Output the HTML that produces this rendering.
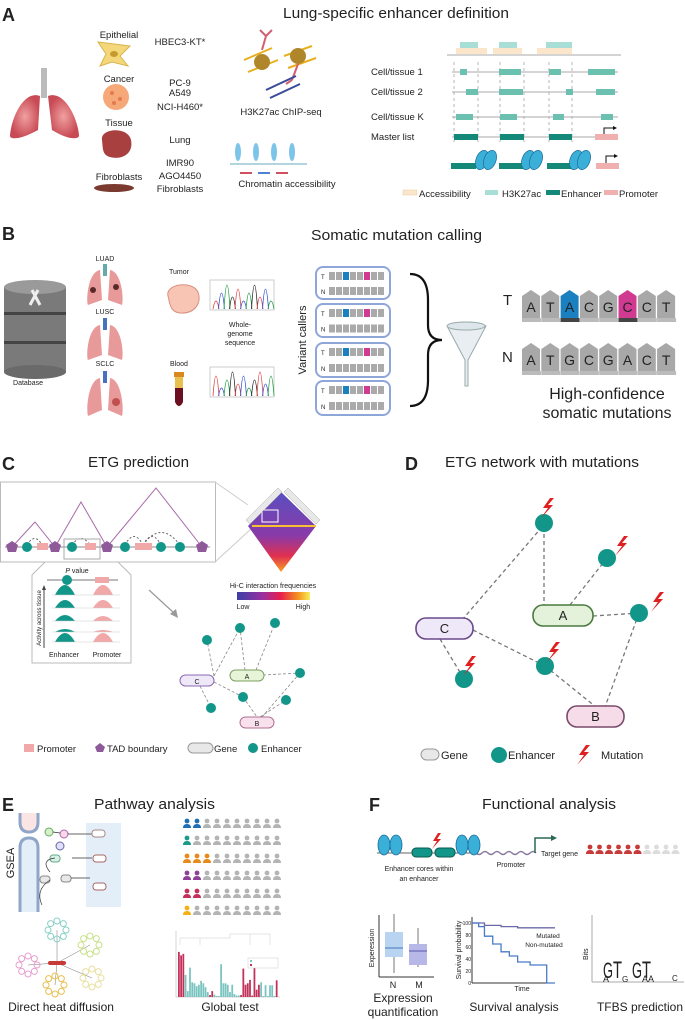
<!DOCTYPE html>
<html><head><meta charset="utf-8"><style>
html,body{margin:0;padding:0;background:#fff}
svg{display:block}
text{font-family:"Liberation Sans",sans-serif;fill:#222}
</style></head><body>
<svg id="fig" width="685" height="1020" viewBox="0 0 685 1020">
<defs>
<linearGradient id="hic" x1="0" x2="1"><stop offset="0" stop-color="#3b3fa6"/><stop offset=".35" stop-color="#9a2fa0"/><stop offset=".6" stop-color="#e8204a"/><stop offset=".85" stop-color="#f59a20"/><stop offset="1" stop-color="#f7ef5a"/></linearGradient>
<linearGradient id="hicd" x1="0" y1="0" x2="0" y2="1"><stop offset="0" stop-color="#5a4fc0"/><stop offset=".55" stop-color="#8a3aa8"/><stop offset=".8" stop-color="#e03050"/><stop offset="1" stop-color="#f7a020"/></linearGradient>
<radialGradient id="lungg"><stop offset="0" stop-color="#f0a0a0"/><stop offset="1" stop-color="#c84a55"/></radialGradient>
</defs>

<!-- ================= PANEL A ================= -->
<g>
<text x="2" y="21" font-size="18" font-weight="bold">A</text>
<text x="283" y="18" font-size="15" textLength="226" lengthAdjust="spacingAndGlyphs">Lung-specific enhancer definition</text>
<g>
<rect x="41" y="68" width="6" height="30" fill="#bbb"/>
<path d="M40 96 C25 90 12 115 10 135 C9 140 20 140 38 130 Z" fill="url(#lungg)"/>
<path d="M48 96 C63 90 77 115 79 135 C80 140 68 140 52 130 Z" fill="url(#lungg)"/>
</g>
<g>
<path d="M98 42 L130 46 L120 56 L128 66 L112 62 L100 66 L106 54 Z" fill="#f3d77a" stroke="#d9b44a"/>
<ellipse cx="114" cy="54" rx="4" ry="3" fill="#c79a2e"/>
<circle cx="116" cy="97" r="13" fill="#f6a878"/>
<circle cx="112" cy="93" r="2" fill="#e47a50"/><circle cx="120" cy="99" r="2" fill="#e47a50"/><circle cx="114" cy="103" r="2" fill="#e47a50"/>
<path d="M102 140 C100 128 128 126 131 140 C134 155 120 160 110 157 C102 155 103 148 102 140Z" fill="#a8403f"/>
<ellipse cx="114" cy="188" rx="20" ry="4" fill="#7a3a30"/>
</g>
<g font-size="9.5" text-anchor="middle">
<text x="119" y="38">Epithelial</text>
<text x="180" y="45">HBEC3-KT*</text>
<text x="119" y="82">Cancer</text>
<text x="180" y="86">PC-9</text>
<text x="180" y="96">A549</text>
<text x="180" y="110">NCI-H460*</text>
<text x="119" y="126">Tissue</text>
<text x="180" y="143">Lung</text>
<text x="180" y="166">IMR90</text>
<text x="180" y="179">AGO4450</text>
<text x="180" y="192">Fibroblasts</text>
<text x="119" y="180">Fibroblasts</text>
<text x="281" y="115">H3K27ac ChIP-seq</text>
<text x="287" y="187">Chromatin accessibility</text>
</g>
<g>
<g stroke="#e8b020" stroke-width="2" fill="none"><path d="M244 60 L272 48 M248 72 L278 60"/><path d="M284 56 L312 46 M288 68 L316 58"/></g>
<circle cx="262" cy="62" r="8" fill="#b0862a"/><circle cx="298" cy="56" r="8" fill="#b0862a"/>
<path d="M262 50 L266 36 M266 36 L260 30 M266 36 L272 30 M298 64 L292 80 M292 80 L286 84" stroke="#d06070" stroke-width="2" fill="none"/>
<path d="M266 90 L296 76 M270 98 L300 84" stroke="#3a4a9a" stroke-width="2"/>
</g>
<g fill="#7cc4e8">
<ellipse cx="238" cy="152" rx="3" ry="9"/><ellipse cx="256" cy="152" rx="3" ry="9"/><ellipse cx="274" cy="152" rx="3" ry="9"/><ellipse cx="292" cy="152" rx="3" ry="9"/>
<path d="M230 164 L307 164" stroke="#6ab" stroke-width="1"/>
<rect x="240" y="172" width="12" height="2" fill="#d05060"/><rect x="258" y="172" width="12" height="2" fill="#5080d0"/><rect x="276" y="172" width="12" height="2" fill="#d05060"/>
</g>
<g id="tracks"></g>
<g font-size="9.5">
<text x="371" y="75">Cell/tissue 1</text>
<text x="371" y="95">Cell/tissue 2</text>
<text x="371" y="120">Cell/tissue K</text>
<text x="371" y="140">Master list</text>
</g>
<g font-size="9.5">
<rect x="403" y="190" width="14" height="5" fill="#fbe6cc" stroke="#e8cca0" stroke-width=".5"/><text x="419" y="197">Accessibility</text>
<rect x="485" y="190" width="13" height="5" fill="#a8ded6"/><text x="502" y="197">H3K27ac</text>
<rect x="546" y="190" width="14" height="5" fill="#14897a"/><text x="561" y="197">Enhancer</text>
<rect x="604" y="190" width="14" height="5" fill="#f0b0b0"/><text x="619" y="197">Promoter</text>
</g>
</g>

<!-- ================= PANEL B ================= -->
<g>
<text x="2" y="240" font-size="18" font-weight="bold">B</text>
<text x="311" y="240" font-size="15" textLength="171" lengthAdjust="spacingAndGlyphs">Somatic mutation calling</text>
<g>
<rect x="4" y="287" width="62" height="85" fill="#7a7a7a"/>
<ellipse cx="35" cy="372" rx="31" ry="7" fill="#6a6a6a"/>
<ellipse cx="35" cy="287" rx="31" ry="7" fill="#9a9a9a"/>
<rect x="4" y="312" width="62" height="3" fill="#444"/><rect x="4" y="341" width="62" height="3" fill="#444"/>
<path d="M32 290 L40 305 M38 290 L30 305" stroke="#eee" stroke-width="3"/>
</g>
<text x="28" y="385" font-size="7" text-anchor="middle">Database</text>
<g font-size="7" text-anchor="middle">
<text x="105" y="261">LUAD</text><text x="105" y="314">LUSC</text><text x="105" y="366">SCLC</text>
<text x="179" y="274">Tumor</text><text x="179" y="366">Blood</text>
<text x="240" y="327">Whole-</text><text x="240" y="336">genome</text><text x="240" y="345">sequence</text>
</g>
<g fill="#e89a9a">
<path d="M100 270 C88 272 86 300 88 305 L102 300 Z M110 270 C122 272 124 300 122 305 L108 300 Z"/>
<path d="M100 325 C88 327 86 355 88 360 L102 355 Z M110 325 C122 327 124 355 122 360 L108 355 Z"/>
<path d="M100 378 C88 380 86 410 88 416 L102 410 Z M110 378 C122 380 124 410 122 416 L108 410 Z"/>
<rect x="103" y="264" width="4" height="12" fill="#6aa"/><rect x="103" y="318" width="4" height="12" fill="#4a70c0"/><rect x="103" y="371" width="4" height="12" fill="#4a70c0"/>
<circle cx="93" cy="290" r="3" fill="#5a2a2a"/><circle cx="116" cy="287" r="3" fill="#5a2a2a"/><circle cx="116" cy="402" r="4" fill="#c05050"/>
</g>
<path d="M168 296 C165 284 192 280 198 292 C202 304 194 314 180 313 C170 312 170 304 168 296Z" fill="#f8c4b4" stroke="#d89080"/>
<g><rect x="174" y="372" width="10" height="5" fill="#d88a20"/><path d="M175 377 L183 377 L183 402 Q179 410 175 402 Z" fill="#e8c050"/><path d="M175 388 L183 388 L183 402 Q179 410 175 402 Z" fill="#6a1020"/></g>
<g id="chrom"></g>
<text transform="translate(306,340) rotate(-90)" font-size="11" text-anchor="middle">Variant callers</text>
<g id="callers"></g>
<path d="M410 274 Q428 274 428 300 L428 325 Q428 340 442 340 Q428 340 428 355 L428 380 Q428 406 410 406" fill="none" stroke="#111" stroke-width="2.2"/>
<g><path d="M447 326 Q466 318 486 326 L468 360 L468 386 L465 386 L465 360 Z" fill="#e8eef2" stroke="#9aa" stroke-width="1"/><ellipse cx="466" cy="326" rx="19" ry="4" fill="#dde6ea" stroke="#9aa"/></g>
<text x="503" y="305" font-size="15">T</text>
<text x="502" y="362" font-size="15">N</text>
<g id="tiles"></g>
<text x="607" y="399" font-size="16" text-anchor="middle">High-confidence</text>
<text x="607" y="418" font-size="16" text-anchor="middle">somatic mutations</text>
</g>

<!-- ================= PANEL C ================= -->
<g>
<text x="2" y="470" font-size="18" font-weight="bold">C</text>
<text x="88" y="467" font-size="15" textLength="101" lengthAdjust="spacingAndGlyphs">ETG prediction</text>
<rect x="0.5" y="482" width="215" height="80" fill="none" stroke="#bbb"/>
<path d="M215 482 L248 505 M215 562 L252 528" stroke="#ccc" fill="none"/>
<path d="M12 547 L35 522 L55 547 L81 502 L107 547 L156 488 L202 547" fill="none" stroke="#a86aa8"/>
<path d="M27 545 Q35 532 42 545 M72 545 Q81 532 90 545 M125 545 Q134 528 143 545 M143 545 Q152 528 161 545 M143 545 Q161 520 180 545" fill="none" stroke="#666" stroke-dasharray="2,2"/>
<line x1="5" y1="547" x2="210" y2="547" stroke="#888"/>
<rect x="64" y="539" width="36" height="20" fill="none" stroke="#aaa"/>
<g id="tadmarks"></g>
<g>
<path d="M248 526 L281 492 L316 526 L281 572 Z" fill="url(#hicd)"/>
<path d="M252 526 L316 526" stroke="#f7c030" stroke-width="2"/>
<rect x="262" y="510" width="16" height="12" fill="none" stroke="#fff"/>
<path d="M246 520 L278 488 L282 492 L250 524Z M284 492 L288 488 L320 520 L316 524Z" fill="#e8e8e8" stroke="#aaa" stroke-width=".5"/>
</g>
<text x="273" y="588" font-size="7" text-anchor="middle">Hi-C interaction frequencies</text>
<rect x="237" y="592" width="73" height="8" fill="url(#hic)"/>
<text x="243" y="609" font-size="7" text-anchor="middle">Low</text><text x="303" y="609" font-size="7" text-anchor="middle">High</text>
<path d="M149 590 L174 613" stroke="#999" stroke-width="1.2"/><path d="M170 614 L178 618 L176 609Z" fill="#999"/>
<path d="M32 575 L45 562 L118 562 L131 575 L131 663 L32 663 Z" fill="#fff" stroke="#bbb"/>
<text x="77" y="573" font-size="7" text-anchor="middle"><tspan font-style="italic">P</tspan> value</text>
<line x1="47" y1="580" x2="118" y2="580" stroke="#777"/>
<circle cx="67" cy="580" r="5" fill="#12968a"/><rect x="95" y="577" width="14" height="6" fill="#f0a8a8"/>
<g id="peaks"></g>
<line x1="44" y1="648" x2="44" y2="588" stroke="#444"/><path d="M42 590 L44 585 L46 590Z" fill="#444"/>
<text transform="translate(41,618) rotate(-90)" font-size="6" text-anchor="middle">Activity across tissue</text>
<text x="64" y="657" font-size="7" text-anchor="middle">Enhancer</text><text x="107" y="657" font-size="7" text-anchor="middle">Promoter</text>
<g id="smallnet"></g>
<g font-size="9.5">
<rect x="24" y="744" width="10" height="8" fill="#f0a8a8"/><text x="37" y="752">Promoter</text>
<path d="M100 743 L105 747 L103 752 L97 752 L95 747Z" fill="#8e5a9a"/><text x="107" y="752">TAD boundary</text>
<rect x="188" y="743" width="25" height="10" rx="5" fill="#e8e8e8" stroke="#999"/><text x="214" y="752">Gene</text>
<circle cx="253" cy="748" r="5" fill="#12968a"/><text x="261" y="752">Enhancer</text>
</g>
</g>

<!-- ================= PANEL D ================= -->
<g>
<text x="405" y="470" font-size="18" font-weight="bold">D</text>
<text x="445" y="467" font-size="15" textLength="194" lengthAdjust="spacingAndGlyphs">ETG network with mutations</text>
<g id="bignet"></g>
<g font-size="11">
<rect x="421" y="749" width="18" height="11" rx="5.5" fill="#e8e8e8" stroke="#999"/><text x="441" y="759">Gene</text>
<circle cx="499" cy="755" r="8" fill="#12968a"/><text x="508" y="759">Enhancer</text>
<path d="M586 745 L579 755 L584 755 L577 765 L589 752 L584 752 L590 745Z" fill="#e02020"/><text x="601" y="759">Mutation</text>
</g>
</g>

<!-- ================= PANEL E ================= -->
<g>
<text x="2" y="811" font-size="18" font-weight="bold">E</text>
<text x="94" y="809" font-size="15" textLength="121" lengthAdjust="spacingAndGlyphs">Pathway analysis</text>
<text transform="translate(14,863) rotate(-90)" font-size="11" text-anchor="middle">GSEA</text>
<g>
<rect x="86" y="823" width="35" height="84" fill="#e4eef8"/>
<path d="M20 813 L20 822 Q20 832 29 832 Q38 832 38 822 L38 813" fill="#fbe4e4" stroke="#8fa6c8" stroke-width="3"/>
<path d="M20 912 L20 848 Q20 838 29 838 Q38 838 38 848 L38 912" fill="#e4eef8" stroke="#8fa6c8" stroke-width="3"/>
<circle cx="49" cy="832" r="4" fill="#d8f0c8" stroke="#6a6"/><circle cx="64" cy="834" r="4" fill="#f8d8e8" stroke="#a6a"/><circle cx="60" cy="846" r="4" fill="#e0e0f8" stroke="#66a"/>
<rect x="50" y="855" width="10" height="7" rx="3" fill="#d8f0e8" stroke="#6a8"/><rect x="40" y="876" width="10" height="7" rx="3" fill="#e8e8e8" stroke="#888"/><rect x="61" y="875" width="10" height="7" rx="3" fill="#e8e8e8" stroke="#888"/>
<path d="M53 832 L60 833 M68 834 L92 834 M72 858 L92 858 M71 878 L90 878 M55 858 Q40 860 50 872 M50 880 Q35 890 42 905" stroke="#333" fill="none" stroke-width=".7"/>
<rect x="92" y="830" width="13" height="7" rx="3" fill="#fff" stroke="#a88"/><rect x="93" y="855" width="13" height="7" rx="3" fill="#fff" stroke="#a66"/><rect x="93" y="883" width="13" height="7" rx="3" fill="#fff" stroke="#a66"/>
</g>
<g id="people"></g>
<g id="heat"></g>
<g id="gtest"></g>
<text x="61" y="1011" font-size="12" text-anchor="middle">Direct heat diffusion</text>
<text x="230" y="1011" font-size="12" text-anchor="middle">Global test</text>
</g>

<!-- ================= PANEL F ================= -->
<g>
<text x="369" y="811" font-size="18" font-weight="bold">F</text>
<text x="482" y="809" font-size="15" textLength="134" lengthAdjust="spacingAndGlyphs">Functional analysis</text>
<g>
<path d="M470 853 q3 -3 6 0 t6 0 t6 0 t6 0 t6 0 t6 0 t6 0 t6 0 t6 0 t6 0 t6 0" fill="none" stroke="#8a7aa0" stroke-width="1.5"/>
<line x1="377" y1="853" x2="470" y2="853" stroke="#666"/>
<g fill="#3ab0d8" stroke="#1a6a98" stroke-width=".8">
<ellipse cx="384" cy="845" rx="6" ry="10"/><ellipse cx="396" cy="845" rx="6" ry="10"/>
<ellipse cx="462" cy="845" rx="6" ry="10"/><ellipse cx="474" cy="845" rx="6" ry="10"/>
</g>
<rect x="412" y="848" width="20" height="9" rx="4" fill="#12968a" stroke="#0a5a50"/><rect x="435" y="848" width="20" height="9" rx="4" fill="#12968a" stroke="#0a5a50"/>
<path d="M438 833 L433 841 L437 841 L432 849 L441 839 L437 839 L441 833Z" fill="#e02020"/>
<path d="M535 853 L535 838 L553 838" fill="none" stroke="#2a6a50" stroke-width="1.5"/><path d="M551 835 L557 838 L551 841Z" fill="#2a6a50"/>
<text x="419" y="871" font-size="7" font-family="Liberation Serif, serif" text-anchor="middle" fill="#3a3a7a">Enhancer cores within</text>
<text x="419" y="881" font-size="7" font-family="Liberation Serif, serif" text-anchor="middle" fill="#3a3a7a">an enhancer</text>
<text x="511" y="867" font-size="7" font-family="Liberation Serif, serif" text-anchor="middle" fill="#3a3a7a">Promoter</text>
<text x="541" y="856" font-size="7" font-family="Liberation Serif, serif" fill="#3a3a7a">Target gene</text>
</g>
<g id="fpeople"></g>
<g id="boxplot"></g>
<text x="403" y="1002" font-size="12" text-anchor="middle">Expression</text>
<text x="403" y="1016" font-size="12" text-anchor="middle">quantification</text>
<g id="surv"></g>
<text x="514" y="1011" font-size="12" text-anchor="middle">Survival analysis</text>
<g>
<line x1="592" y1="915" x2="592" y2="982" stroke="#aaa"/><line x1="592" y1="982" x2="684" y2="982" stroke="#aaa"/>
<text transform="translate(588,960) rotate(-90)" font-size="7">Bits</text>
<text x="603" y="978" font-size="22" fill="#f0b020" textLength="10" lengthAdjust="spacingAndGlyphs">G</text>
<text x="613" y="978" font-size="24" fill="#d02020" textLength="9" lengthAdjust="spacingAndGlyphs">T</text>
<text x="632" y="978" font-size="22" fill="#f0b020" textLength="10" lengthAdjust="spacingAndGlyphs">G</text>
<text x="642" y="978" font-size="24" fill="#d02020" textLength="9" lengthAdjust="spacingAndGlyphs">T</text>
<text x="603" y="982" font-size="9" fill="#20a040">A</text><text x="622" y="982" font-size="8" fill="#f0b020">G</text><text x="642" y="982" font-size="9" fill="#20a040">AA</text><text x="672" y="981" font-size="8" fill="#3060c0">C</text>
</g>
<text x="640" y="1011" font-size="12" text-anchor="middle">TFBS prediction</text>
</g>
</svg>
<script>
// ---------- data ----------
var trackStarts1 = [460,499,549,588], trackEnds1 = [467,521,561,615];
var trackStarts2 = [466,499,566,596], trackEnds2 = [478,523,573,615];
var trackStartsK = [456,500,553,601], trackEndsK = [473,517,564,613];
var masterStarts = [454,500,549], masterEnds = [478,524,572];
var gtTeal = [0,0,0,1,1,1,1,1,1,1,1,1,1,1,0,0,1,1,1,1,1,1,1,1,1,1,1,1,0,0,0,0,0,0,0,0,0,1,1,1,1,1,1,1,0];
var gtValues = [.92,.85,.88,.45,.12,.6,.3,.28,.22,.25,.33,.28,.2,.1,.04,.12,.05,.02,.02,.67,.28,.28,.25,.1,.25,.06,.03,.03,.04,.58,.25,.28,.35,.03,.66,.15,.25,.3,.02,.24,.02,.24,.24,.02,.34];
var survTicks = [0,20,40,60,80,100];
var survTime = [0,0.08,0.15,0.25,0.35,0.45,0.55,0.7,0.9,1.0];
var survMutated = [100,100,96,96,94,94,92,92,92,92];
var survNon = [100,94,78,65,52,45,35,30,0,0];
var peopleCounts = [2,1,3,2,2,1];
var peopleColors = ['#1e6fb5','#1a9a88','#e88a1a','#8e3f98','#c2315a','#f5b014'];

var NS='http://www.w3.org/2000/svg';
function mk(parent,tag,attrs){var e=document.createElementNS(NS,tag);for(var k in attrs)e.setAttribute(k,attrs[k]);document.getElementById(parent).appendChild(e);return e;}

// ---------- A tracks ----------
(function(){
 var g='tracks';
 [[456,487],[493,522],[537,572]].forEach(function(p){var r=mk(g,'rect',{x:p[0],y:48,width:p[1]-p[0],height:6,fill:'#fbe6cc'});});
 [[460,478],[499,517],[546,572]].forEach(function(p){mk(g,'rect',{x:p[0],y:42,width:p[1]-p[0],height:6,fill:'#a8ded6'});});
 mk(g,'line',{x1:447,y1:55,x2:621,y2:55,stroke:'#aaa'});
 [454,478,500,524,549,572].forEach(function(x){mk(g,'line',{x1:x,y1:62,x2:x,y2:142,stroke:'#999','stroke-dasharray':'3,3','stroke-width':.7});});
 var rows=[[72,trackStarts1,trackEnds1,'#6cc0b0'],[92,trackStarts2,trackEnds2,'#6cc0b0'],[117,trackStartsK,trackEndsK,'#6cc0b0'],[137,masterStarts,masterEnds,'#14897a']];
 rows.forEach(function(r){mk(g,'line',{x1:452,y1:r[0],x2:618,y2:r[0],stroke:'#aaa'});
  for(var i=0;i<r[1].length;i++){mk(g,'rect',{x:r[1][i],y:r[0]-3,width:r[2][i]-r[1][i],height:6,fill:r[3]});}});
 mk(g,'rect',{x:595,y:134,width:23,height:6,fill:'#f0b0b0'});
 mk(g,'path',{d:'M604 134 L604 128 L614 128',stroke:'#111',fill:'none'});mk(g,'path',{d:'M613 126 L617 128 L613 130Z',fill:'#111'});
 [[451,476],[499,524],[547,572]].forEach(function(p){mk(g,'rect',{x:p[0],y:163,width:p[1]-p[0],height:6,fill:'#14897a'});});
 [478,486,524,532,572,580].forEach(function(x){mk(g,'ellipse',{cx:x+4,cy:160,rx:6,ry:10,fill:'#3ab0d8',stroke:'#1a6a98','stroke-width':.7,transform:'rotate(20 '+(x+4)+' 160)'});});
 mk(g,'rect',{x:596,y:163,width:23,height:6,fill:'#f0b0b0'});
 mk(g,'path',{d:'M606 163 L606 156 L615 156',stroke:'#111',fill:'none'});mk(g,'path',{d:'M614 154 L618 156 L614 158Z',fill:'#111'});
})();

// ---------- B ----------
(function(){
 var cols=['#e04040','#3050d0','#20a040','#222'];
 [[210,280,274,310],[210,367,274,397]].forEach(function(b,k){
  mk('chrom','rect',{x:b[0],y:b[1],width:b[2]-b[0],height:b[3]-b[1],fill:'#fff',stroke:'#ccc'});
  for(var i=0;i<11;i++){var x=b[0]+3+i*5.5;var h=8+((i*7+k*3)%5)*4;mk('chrom','path',{d:'M'+x+' '+(b[3]-1)+' Q'+(x+3)+' '+(b[3]-1-h*2)+' '+(x+6)+' '+(b[3]-1),fill:'none',stroke:cols[i%4],'stroke-width':.8});}
 });
 var boxes=[[267,299],[304,337],[343,377],[381,415]];
 boxes.forEach(function(b){mk('callers','rect',{x:316,y:b[0],width:74,height:b[1]-b[0],rx:7,fill:'#fff',stroke:'#8fa6d8','stroke-width':2});
  var m=(b[0]+b[1])/2;
  [[b[0]+9,'T'],[m+8,'N']].forEach(function(r,ri){var t=mk('callers','text',{x:321,y:r[0]+3,'font-size':6});t.textContent=r[1];
   for(var i=0;i<8;i++){var c='#aaa';if(ri==0&&i==2)c='#1a80c0';if(ri==0&&i==5)c='#d03a90';mk('callers','rect',{x:329+i*7,y:r[0]-4,width:6,height:8,fill:c});}});
 });
 var T=['A','T','A','C','G','C','C','T'],N=['A','T','G','C','G','A','C','T'];
 [[290,T],[343,N]].forEach(function(r,ri){for(var i=0;i<8;i++){var c='#a8a8a8';if(ri==0&&i==2)c='#1a80c0';if(ri==0&&i==5)c='#d03a90';var x=522+i*19.3;
  mk('tiles','path',{d:'M'+x+' '+(r[0]+28)+' L'+x+' '+(r[0]+6)+' L'+(x+9)+' '+r[0]+' L'+(x+18)+' '+(r[0]+6)+' L'+(x+18)+' '+(r[0]+28)+'Z',fill:c});
  mk('tiles','rect',{x:x,y:r[0]+28,width:19,height:4,fill:(ri==0&&(i==2||i==5))?'#444':'#bbb'});
  var t=mk('tiles','text',{x:x+9,y:r[0]+22,'font-size':14,'text-anchor':'middle',fill:'#eee'});t.textContent=r[1][i];}});
})();

// ---------- C ----------
(function(){
 [12,55,107,202].forEach(function(x){mk('tadmarks','path',{d:'M'+x+' 541 L'+(x+6)+' 545 L'+(x+4)+' 552 L'+(x-4)+' 552 L'+(x-6)+' 545Z',fill:'#8e5a9a'});});
 [27,72,125,161,180].forEach(function(x){mk('tadmarks','circle',{cx:x,cy:547,r:5,fill:'#12968a'});});
 [[37,48],[85,96],[135,152]].forEach(function(p){mk('tadmarks','rect',{x:p[0],y:543,width:p[1]-p[0],height:7,fill:'#f0a8a8'});});
 [595,608,621,632,642].forEach(function(y,i){var h=[10,8,6,3,9][i];
  mk('peaks','path',{d:'M55 '+y+' Q65 '+(y-h*2)+' 75 '+y+'Z',fill:'#12968a'});
  mk('peaks','path',{d:'M93 '+y+' Q103 '+(y-[10,8,5,2,9][i]*2)+' 113 '+y+'Z',fill:'#f0a8a8'});
  mk('peaks','line',{x1:52,y1:y,x2:120,y2:y,stroke:'#ccc','stroke-width':.5});});
 var g='smallnet';
 var en=[[207,640],[240,628],[275,623],[300,673],[243,697],[286,700],[211,708]];
 var lines=[[214,676,207,640],[214,676,240,628],[245,670,240,628],[256,670,275,623],[263,675,300,673],[214,682,243,697],[243,697,257,717],[260,717,286,700],[262,717,300,673],[200,686,211,708]];
 lines.forEach(function(l){mk(g,'line',{x1:l[0],y1:l[1],x2:l[2],y2:l[3],stroke:'#888','stroke-dasharray':'3,2','stroke-width':.8});});
 [[180,675,'C','#efe8f8','#8a6ab0'],[230,670,'A','#e8f4d8','#7aa060'],[240,717,'B','#f8e0ec','#b07090']].forEach(function(p){mk(g,'rect',{x:p[0],y:p[1],width:34,height:11,rx:5.5,fill:p[3],stroke:p[4]});var t=mk(g,'text',{x:p[0]+17,y:p[1]+9,'font-size':7,'text-anchor':'middle'});t.textContent=p[2];});
 en.forEach(function(p){mk(g,'circle',{cx:p[0],cy:p[1],r:5,fill:'#12968a'});});
})();

// ---------- D ----------
(function(){
 var g='bignet';
 var lines=[[462,620,542,527],[544,527,544,605],[570,605,607,558],[593,616,639,613],[440,639,464,679],[473,630,545,666],[545,666,596,707],[639,613,605,707]];
 lines.forEach(function(l){mk(g,'line',{x1:l[0],y1:l[1],x2:l[2],y2:l[3],stroke:'#777','stroke-dasharray':'4,3','stroke-width':1.3});});
 [[416,618,57,21,'C','#efe8f8','#6a4a8a'],[533,605,60,21,'A','#e4f2dc','#4a7a40'],[567,706,57,21,'B','#f5dce8','#7a4a6a']].forEach(function(p){mk(g,'rect',{x:p[0],y:p[1],width:p[2],height:p[3],rx:10,fill:p[5],stroke:p[6],'stroke-width':1.6});var t=mk(g,'text',{x:p[0]+p[2]/2,y:p[1]+15,'font-size':13,'text-anchor':'middle'});t.textContent=p[4];});
 [[544,523],[607,558],[639,613],[545,666],[464,679]].forEach(function(p){mk(g,'circle',{cx:p[0],cy:p[1],r:9,fill:'#12968a'});});
 [[546,498],[620,536],[656,592],[552,642],[468,656]].forEach(function(p){var x=p[0],y=p[1];mk(g,'path',{d:'M'+(x+4)+' '+y+' L'+(x-3)+' '+(y+10)+' L'+(x+2)+' '+(y+10)+' L'+(x-5)+' '+(y+20)+' L'+(x+7)+' '+(y+7)+' L'+(x+2)+' '+(y+7)+' L'+(x+8)+' '+y+'Z',fill:'#e02020'});});
})();

// ---------- E people ----------
function person(g,x,y,c){mk(g,'circle',{cx:x,cy:y-5,r:2.4,fill:c});mk(g,'path',{d:'M'+(x-4)+' '+(y+2)+' Q'+(x-4)+' '+(y-2)+' '+x+' '+(y-2)+' Q'+(x+4)+' '+(y-2)+' '+(x+4)+' '+(y+2)+'Z',fill:c});}
(function(){
 var ys=[826,843,861,878,896,913];
 for(var r=0;r<6;r++)for(var i=0;i<10;i++){person('people',187+i*10,ys[r],i<peopleCounts[r]?peopleColors[r]:'#b4b4b4');}
 for(var i=0;i<10;i++){person('fpeople',590+i*9.5,852,i<6?'#c83a3a':'#dcdcdc');}
})();

// ---------- heat diffusion ----------
(function(){
 var g='heat';
 var cl=[[57,930,'#8ad0c8'],[28,965,'#e8a0d0'],[90,945,'#c8e088'],[55,985,'#e8c050'],[92,978,'#e8e0a0']];
 cl.forEach(function(c){mk(g,'line',{x1:57,y1:963,x2:c[0],y2:c[1],stroke:'#777','stroke-width':.5});
  for(var i=0;i<8;i++){var a=i*0.785;mk(g,'circle',{cx:c[0]+Math.cos(a)*9,cy:c[1]+Math.sin(a)*9,r:3,fill:'none',stroke:c[2],'stroke-width':1});}});
 mk(g,'rect',{x:48,y:961,width:18,height:4,rx:2,fill:'#c83a3a'});
})();

// ---------- global test bars ----------
(function(){
 var g='gtest';var x0=178,x1=278,y0=997,y1=948;
 function xs(i){return x0+(x1-x0)*i/gtValues.length;}
 function ys(v){return y0-(y0-y1)*v;}
 mk(g,'line',{x1:176,y1:931,x2:176,y2:997,stroke:'#aaa','stroke-width':.5});
 mk(g,'line',{x1:176,y1:997,x2:280,y2:997,stroke:'#aaa','stroke-width':.5});
 mk(g,'path',{d:'M180 945 L180 938 L230 938 L230 934 L270 934 L270 945 M200 938 L200 945 M250 934 L250 945',fill:'none',stroke:'#ccc','stroke-width':.5});
 for(var i=0;i<gtValues.length;i++){var b=mk(g,'rect',{x:xs(i),y:ys(gtValues[i]),width:(x1-x0)/gtValues.length*0.8,height:y0-ys(gtValues[i]),fill:gtTeal[i]?'#7ac4c0':'#c2315a'});
  
  }
 mk(g,'rect',{x:248,y:958,width:30,height:10,fill:'#fff',stroke:'#ccc','stroke-width':.5});
 mk(g,'rect',{x:250,y:960,width:2,height:2,fill:'#7ac4c0'});mk(g,'rect',{x:250,y:964,width:2,height:2,fill:'#c2315a'});
})();

// ---------- boxplot ----------
(function(){
 var g='boxplot';
 mk(g,'line',{x1:379,y1:915,x2:379,y2:977,stroke:'#333'});mk(g,'line',{x1:379,y1:977,x2:434,y2:977,stroke:'#333'});
 var t=mk(g,'text',{transform:'translate(374,948) rotate(-90)','font-size':7,'text-anchor':'middle'});t.textContent='Experession';
 [[385,403,914,932,948,957,973,'#b8d4f0','#5a8ac8'],[409,427,928,944,951,965,967,'#b8b8e8','#6a6ab8']].forEach(function(b){
  mk(g,'line',{x1:(b[0]+b[1])/2,y1:b[2],x2:(b[0]+b[1])/2,y2:b[6],stroke:'#777'});
  mk(g,'rect',{x:b[0],y:b[3],width:b[1]-b[0],height:b[5]-b[3],fill:b[7]});
  mk(g,'line',{x1:b[0],y1:b[4],x2:b[1],y2:b[4],stroke:b[8],'stroke-width':1.2});});
 var n=mk(g,'text',{x:393,y:988,'font-size':9,'text-anchor':'middle'});n.textContent='N';
 var m=mk(g,'text',{x:419,y:988,'font-size':9,'text-anchor':'middle'});m.textContent='M';
})();

// ---------- survival ----------
(function(){
 var g='surv';var x0=472,x1=555,y0=983,y1=923;
 function xs(v){return x0+(x1-x0)*v;} function ys(v){return y0-(y0-y1)*v/100;}
 mk(g,'line',{x1:x0,y1:917,x2:x0,y2:y0,stroke:'#333'});mk(g,'line',{x1:x0,y1:y0,x2:x1,y2:y0,stroke:'#333'});
 survTicks.forEach(function(v){var t=mk(g,'text',{x:x0-1,y:ys(v)+2,'font-size':5,'text-anchor':'end'});t.textContent=v;});
 var tl=mk(g,'text',{transform:'translate(461,950) rotate(-90)','font-size':7,'text-anchor':'middle'});tl.textContent='Survival probability';
 function step(arr,col,name){var d='M'+xs(survTime[0])+' '+ys(arr[0]);for(var i=1;i<arr.length;i++){d+=' H'+xs(survTime[i])+' V'+ys(arr[i]);}
  var p=mk(g,'path',{d:d,fill:'none',stroke:col,'stroke-width':1.3});
  
  }
 step(survMutated,'#6a6aa8','mutated-curve');step(survNon,'#4a7ac8','non-mutated-curve');
 var a=mk(g,'text',{x:548,y:938,'font-size':6.5,'text-anchor':'middle',fill:'#6a6ab8'});a.textContent='Mutated';
 var b=mk(g,'text',{x:544,y:947,'font-size':6.5,'text-anchor':'middle',fill:'#6a6ab8'});b.textContent='Non-mutated';
 var c=mk(g,'text',{x:522,y:991,'font-size':7,'text-anchor':'middle'});c.textContent='Time';
})();
</script>
</body></html>
